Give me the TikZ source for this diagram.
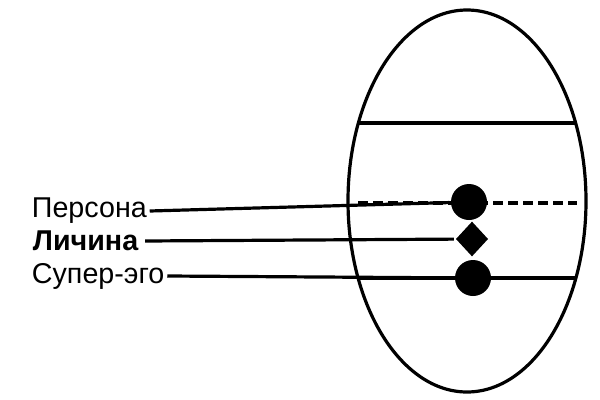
\documentclass[tikz,border=0pt]{standalone}
\usepackage{fontspec}
\setmainfont{Liberation Sans}
\usetikzlibrary{shapes.geometric}

\begin{document}
\begin{tikzpicture}[x=0.75pt, y=-0.75pt, line width=2.4pt,
	dot/.style={circle, fill, inner sep=0pt, minimum size=27pt},
	romb/.style={diamond, fill, inner sep=0pt, minimum width=25pt, minimum height=27pt},
	lbl/.style={anchor=west, inner sep=1pt, font=\fontsize{21.5}{24}\selectfont}]
		\useasboundingbox (0, 0) rectangle (600, 400);
		\draw (467, 201) ellipse (119 and 191);
		\draw (358, 123) to (575, 123);
		\draw[dash pattern=on 7.5pt off 3.75pt] (358, 203) to (577, 203);
		\draw (358, 278) to (575, 278);
		% markers on the axis
		\node[dot] (persona dot) at (469, 202) {};
		\node[romb] (lichina dot) at (472, 239) {};
		\node[dot] (superego dot) at (473, 278) {};
		% labels
		\node[lbl] (persona) at (29, 211) {Персона};
		\node[lbl, font=\fontsize{21.5}{24}\selectfont\bfseries, inner sep=4pt] (lichina) at (26, 241) {Личина};
		\node[lbl] (superego) at (29, 276) {Супер-эго};
		\draw (persona.east) to (persona dot);
		\draw (lichina.east) to (lichina dot);
		\draw (superego.east) to (superego dot);
	\end{tikzpicture}
\end{document}
